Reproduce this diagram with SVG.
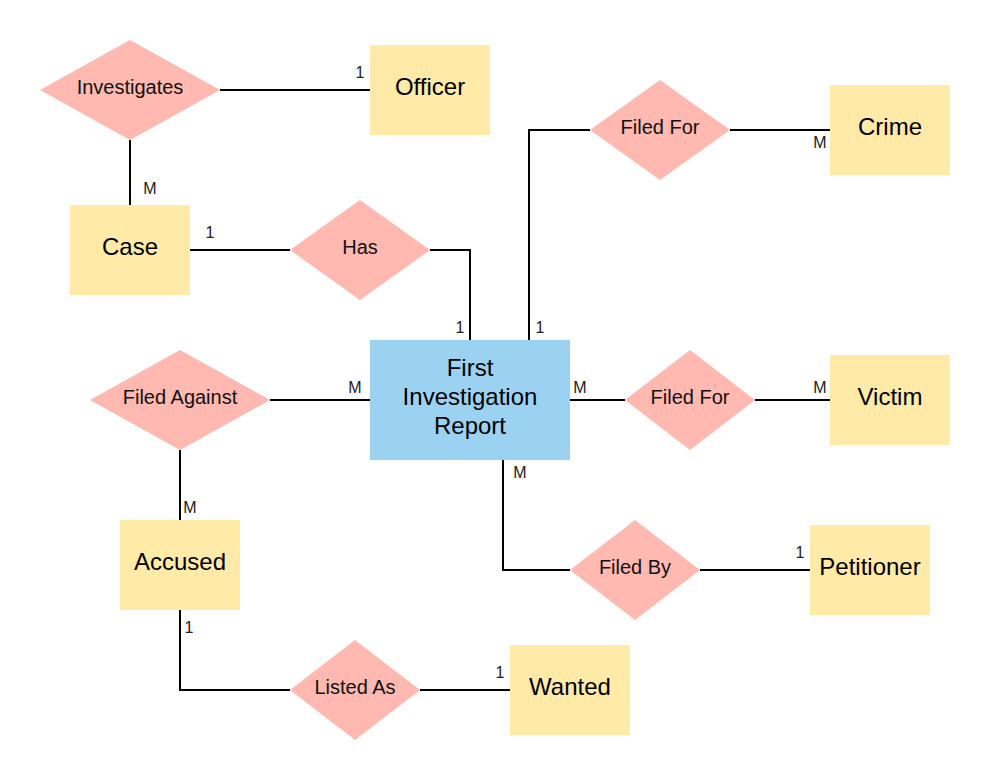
<svg xmlns="http://www.w3.org/2000/svg" width="990" height="780" viewBox="0 0 990 780">
<style>
.ent{fill:#FFEAA8;stroke:none}
.fir{fill:#9BD2F2;stroke:none}
.rel{fill:#FFB9B0;stroke:none}
.et{font-family:"Liberation Sans",Arial,sans-serif;font-size:24px;fill:#000;text-anchor:middle}
.rt{font-family:"Liberation Sans",Arial,sans-serif;font-size:20px;fill:#111;text-anchor:middle}
.card{font-family:"Liberation Sans",Arial,sans-serif;font-size:16px;fill:#222;text-anchor:middle}
.ln{fill:none;stroke:#000;stroke-width:2}
</style>
<rect width="990" height="780" fill="#fff"/>
<g id="connectors">
<path class="ln" d="M220 90H370"/>
<path class="ln" d="M130 140V205"/>
<path class="ln" d="M190 250H290"/>
<path class="ln" d="M430 250H470V340"/>
<path class="ln" d="M529 340V130H590"/>
<path class="ln" d="M730 130H830"/>
<path class="ln" d="M270 400H370"/>
<path class="ln" d="M180 450V520"/>
<path class="ln" d="M570 400H625"/>
<path class="ln" d="M755 400H830"/>
<path class="ln" d="M503 460V570H570"/>
<path class="ln" d="M700 570H810"/>
<path class="ln" d="M180 610V690H290"/>
<path class="ln" d="M420 690H510"/>
<text class="card" x="360" y="78">1</text>
<text class="card" x="150" y="194">M</text>
<text class="card" x="210" y="238">1</text>
<text class="card" x="460" y="333">1</text>
<text class="card" x="540" y="333">1</text>
<text class="card" x="820" y="148">M</text>
<text class="card" x="355" y="393">M</text>
<text class="card" x="580" y="393">M</text>
<text class="card" x="820" y="393">M</text>
<text class="card" x="190" y="513">M</text>
<text class="card" x="520" y="478">M</text>
<text class="card" x="800" y="558">1</text>
<text class="card" x="189" y="633">1</text>
<text class="card" x="500" y="678">1</text>
</g>
<g id="officer"><rect class="ent" x="370" y="45" width="120" height="90"/><text class="et" x="430" y="94.5">Officer</text></g>
<g id="crime"><rect class="ent" x="830" y="85" width="120" height="90"/><text class="et" x="890" y="134.5">Crime</text></g>
<g id="case"><rect class="ent" x="70" y="205" width="120" height="90"/><text class="et" x="130" y="254.5">Case</text></g>
<g id="fir"><rect class="fir" x="370" y="340" width="200" height="120"/>
<text class="et" x="470" y="375.5">First</text>
<text class="et" x="470" y="404.5">Investigation</text>
<text class="et" x="470" y="433.5">Report</text></g>
<g id="victim"><rect class="ent" x="830" y="355" width="120" height="90"/><text class="et" x="890" y="404.5">Victim</text></g>
<g id="accused"><rect class="ent" x="120" y="520" width="120" height="90"/><text class="et" x="180" y="569.5">Accused</text></g>
<g id="petitioner"><rect class="ent" x="810" y="525" width="120" height="90"/><text class="et" x="870" y="574.5">Petitioner</text></g>
<g id="wanted"><rect class="ent" x="510" y="645" width="120" height="90"/><text class="et" x="570" y="694.5">Wanted</text></g>
<g id="investigates"><polygon class="rel" points="40,90 130,40 220,90 130,140"/><text class="rt" x="130" y="94">Investigates</text></g>
<g id="filed-for-crime"><polygon class="rel" points="590,130 660,80 730,130 660,180"/><text class="rt" x="660" y="134">Filed For</text></g>
<g id="has"><polygon class="rel" points="290,250 360,200 430,250 360,300"/><text class="rt" x="360" y="254">Has</text></g>
<g id="filed-against"><polygon class="rel" points="90,400 180,350 270,400 180,450"/><text class="rt" x="180" y="404">Filed Against</text></g>
<g id="filed-for-victim"><polygon class="rel" points="625,400 690,350 755,400 690,450"/><text class="rt" x="690" y="404">Filed For</text></g>
<g id="filed-by"><polygon class="rel" points="570,570 635,520 700,570 635,620"/><text class="rt" x="635" y="574">Filed By</text></g>
<g id="listed-as"><polygon class="rel" points="290,690 355,640 420,690 355,740"/><text class="rt" x="355" y="694">Listed As</text></g>
</svg>
